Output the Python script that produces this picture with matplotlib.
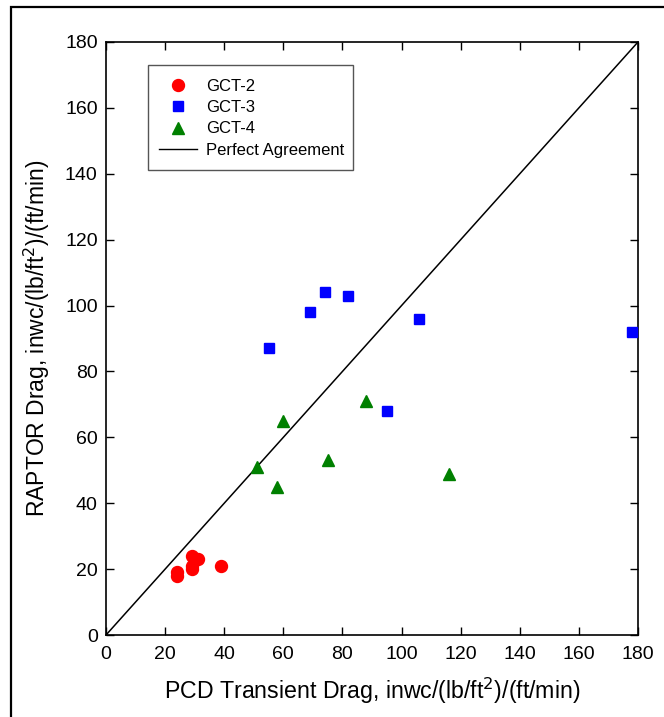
import matplotlib
matplotlib.use("Agg")
import matplotlib.pyplot as plt
from matplotlib.lines import Line2D
from matplotlib.patches import Rectangle

plt.rcParams['font.family'] = ['Liberation Sans', 'DejaVu Sans']

gct2_x = [24, 24, 29, 31, 29, 29, 39]
gct2_y = [18, 19, 24, 23, 20, 21, 21]
gct3_x = [55, 69, 74, 82, 95, 106, 178]
gct3_y = [87, 98, 104, 103, 68, 96, 92]
gct4_x = [51, 58, 60, 75, 88, 116]
gct4_y = [51, 45, 65, 53, 71, 49]
ticks = [0, 20, 40, 60, 80, 100, 120, 140, 160, 180]

fig = plt.figure(figsize=(6.64, 7.17), dpi=100)
ax = fig.add_axes([106/664, 1-635/717, 532/664, 593/717])

ax.plot([0, 180], [0, 180], color='black', lw=1.1, zorder=2)
ax.plot(gct2_x, gct2_y, 'o', color='#ff0000', ms=8.6, mec='#ff0000', ls='none', zorder=3)
ax.plot(gct3_x, gct3_y, 's', color='#0000ff', ms=7.0, mec='#0000ff', ls='none', zorder=3)
ax.plot(gct4_x, gct4_y, '^', color='#008000', ms=8.0, mec='#008000', ls='none', zorder=3)

ax.set_xlim(0, 180)
ax.set_ylim(0, 180)
ax.set_xticks(ticks)
ax.set_yticks(ticks)
ax.tick_params(direction='in', length=6, width=1, labelsize=14, top=True, right=True)
ax.tick_params(axis='x', pad=8)
ax.tick_params(axis='y', pad=6)
for s in ax.spines.values():
    s.set_linewidth(1.2)

ax.set_xlabel('PCD Transient Drag, inwc/(lb/ft$^2$)/(ft/min)', fontsize=16.7, labelpad=9)
ax.set_ylabel('RAPTOR Drag, inwc/(lb/ft$^2$)/(ft/min)', fontsize=16.5, labelpad=9)

# legend box
ax.add_patch(Rectangle(((148-106)/532, (635-170)/593), 205/532, 105/593,
                       transform=ax.transAxes, facecolor='white', edgecolor='#555555',
                       lw=1.0, zorder=4))

handles = [
    Line2D([], [], marker='o', color='#ff0000', ls='none', ms=8.6),
    Line2D([], [], marker='s', color='#0000ff', ls='none', ms=7.0),
    Line2D([], [], marker='^', color='#008000', ls='none', ms=8.0),
    Line2D([], [], color='black', lw=1.0),
]
leg = ax.legend(handles, ['GCT-2', 'GCT-3', 'GCT-4', 'Perfect Agreement'],
                loc='upper left', bbox_to_anchor=((159-106)/532, (635-79)/593), fontsize=12,
                frameon=False, borderpad=0, labelspacing=0.37, handlelength=2.3,
                handletextpad=0.55, borderaxespad=0)
leg.set_zorder(5)

fig.patches.append(Rectangle((11/664, -0.1), 1.2, 1 - 7/717 + 0.1, transform=fig.transFigure,
                             fill=False, edgecolor='black', lw=1.6))

fig.savefig('out.png', dpi=100)
